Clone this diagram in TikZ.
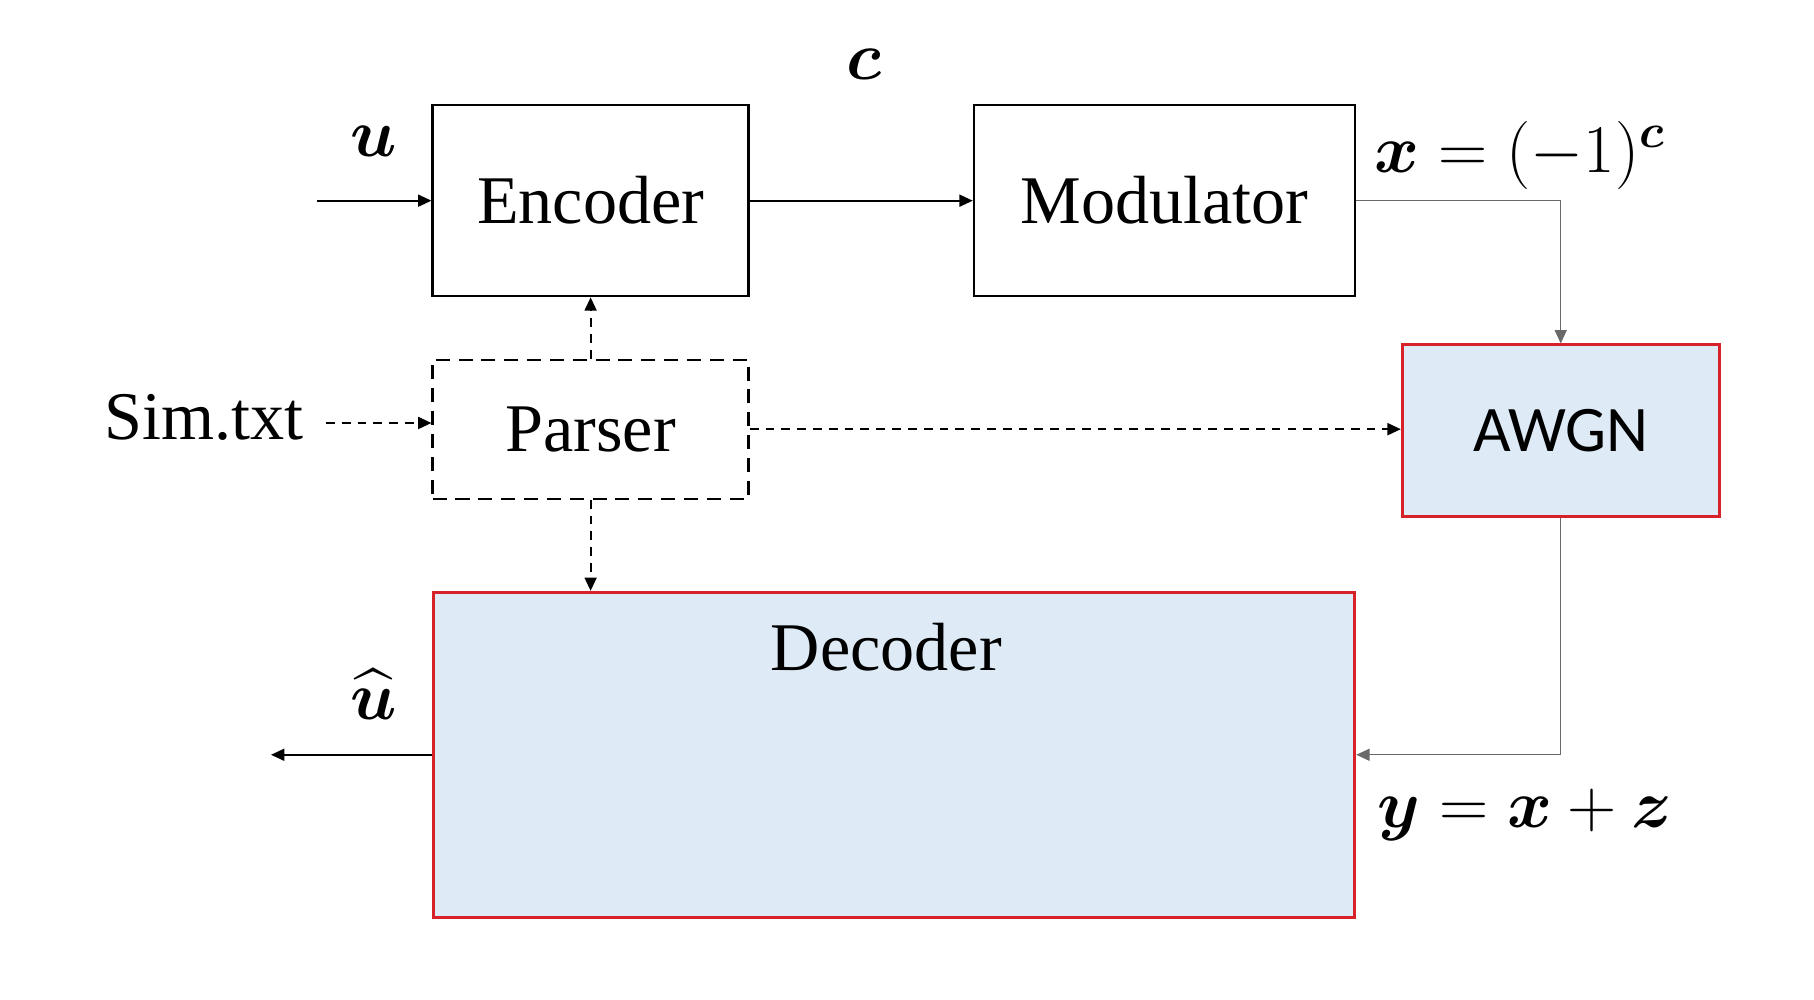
\RequirePackage{fix-cm}
\documentclass[tikz,border=0pt]{standalone}
\usepackage{amsmath,amssymb}
\usepackage{fontspec}
\setmainfont{Liberation Serif}
\newfontfamily\awgnfont{Carlito}
\usepackage{xcolor}
\usepackage{tikz}
\usetikzlibrary{arrows.meta, positioning}

\definecolor{boxblue}{RGB}{222,235,247}
\definecolor{boxred}{RGB}{214,34,40}
\definecolor{linegray}{RGB}{105,105,105}

\begin{document}
\begin{tikzpicture}[>={Triangle[length=3.8pt,width=3.4pt]}, font=\fontsize{19.4}{23}\selectfont]
            \useasboundingbox (0,0) rectangle (18.14,10);

            %Block styles
            \tikzstyle{block} = [draw, rectangle, line width=0.65pt, minimum width=3.16cm, minimum height=1.91cm]
            \tikzstyle{dashblock} = [draw, rectangle, line width=0.65pt, dash pattern=on 4pt off 2.5pt, minimum width=3.16cm, minimum height=1.39cm]
            \tikzstyle{redblock} = [draw=boxred, fill=boxblue, rectangle, line width=0.8pt]
            \tikzstyle{lbl} = [inner sep=0pt]
            \tikzstyle{signal} = [->, line width=0.5pt]
            \tikzstyle{graysignal} = [->, draw=linegray, line width=0.4pt]
            \tikzstyle{ctrl} = [->, line width=0.6pt, dash pattern=on 2.5pt off 2pt]

            %Nodes
            \node[block] at (5.906,7.993) (enc) {Encoder};
            \node[block, minimum width=3.81cm] at (11.644,7.993) (mod) {Modulator};
            \node[dashblock] at (5.906,5.708) (par) {Parser};
            \node[redblock, minimum width=3.17cm, minimum height=1.72cm, font=\awgnfont\fontsize{18.5}{22}\selectfont] at (15.607,5.691) (awgn) {AWGN};
            \node[redblock, minimum width=9.21cm, minimum height=3.25cm] at (8.943,2.452) (dec) {};
            \node[lbl, below=0.32cm of dec.north, xshift=-0.08cm] (declbl) {Decoder};
            \node[anchor=east] at (3.16,5.83) (sim) {Sim.txt};
            \coordinate (uin) at (3.17,7.993);
            \coordinate (uout) at (2.71,2.452);

            %Signal labels
            \node[lbl] at (3.737,8.59) (ulbl) {$\boldsymbol{u}$};
            \node[lbl] at (8.64,9.36) (clbl) {$\boldsymbol{c}$};
            \node[lbl, anchor=west] at (13.74,8.45) (xlbl) {$\boldsymbol{x} = (-1)^{\boldsymbol{c}}$};
            \node[lbl, anchor=west] at (13.77,1.85) (ylbl) {$\boldsymbol{y} = \boldsymbol{x} + \boldsymbol{z}$};
            \node[lbl] at (3.737,3.06) (uhat) {$\widehat{\boldsymbol{u}}$};

            %Connections
            \draw[signal] (uin) -- (enc.west);
            \draw[signal] (enc.east) -- (mod.west);
            \draw[graysignal] (mod.east) -| (awgn.north);
            \draw[graysignal] (awgn.south) |- (dec.east);
            \draw[signal] (dec.west) -- (uout);
            \draw[ctrl] ([xshift=1mm,yshift=-0.6mm]sim.east) -- ([yshift=-0.6mm]sim.east -| par.west);
            \draw[ctrl] (par.north) -- (enc.south);
            \draw[ctrl] (par.east) -- (par.east -| awgn.west);
            \draw[ctrl] (par.south) -- (par.south |- dec.north);
        \end{tikzpicture}
\end{document}
